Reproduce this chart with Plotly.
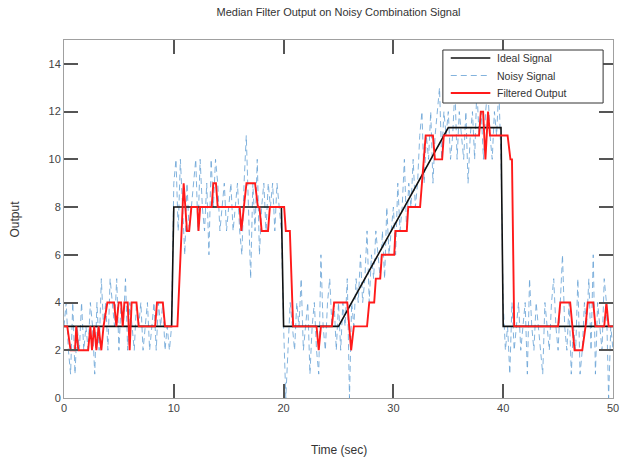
import numpy as np
import plotly.graph_objects as go

# ---------------- data ----------------
ideal_t = [0, 9.8, 10, 19.8, 20, 25, 35, 39.8, 40, 50]
ideal_v = [3, 3, 8, 8, 3, 3, 11.33, 11.33, 3, 3]

noisy_dt = 0.2
noisy_v = [
    # 0 - 10
    3, 4, 2, 1, 4, 1, 3, 2, 4, 2,
    3, 2, 4, 3, 1, 4, 2, 5, 3, 4,
    2, 5, 4, 3, 5, 2, 4, 3, 5, 2,
    4, 3, 2, 4, 3, 4, 2, 3, 4, 2,
    3, 4, 2, 4, 3, 4, 2, 3, 2, 3,
    # 10 - 20
    9, 10, 7, 10, 8, 6, 9, 7, 8, 9,
    10, 7, 10, 8, 7, 9, 6, 10, 8, 10,
    9, 7, 8, 9, 7, 8, 9, 7, 8, 9,
    7, 6, 9, 11, 8, 5, 9, 7, 10, 6,
    8, 9, 7, 9, 8, 9, 7, 9, 8, 7,
    # 20 - 25
    3, 0, 2, 4, 3, 2, 4, 3, 5, 2,
    3, 4, 1, 3, 4, 2, 1, 6, 3, 2,
    4, 5, 3, 4, 2,
    # 25 - 35
    4, 2, 4, 3, 5, 0, 4, 3, 5, 4,
    6, 4, 5, 7, 4, 6, 5, 7, 6, 5,
    7, 5, 8, 6, 7, 8, 6, 9, 7, 8,
    10, 7, 9, 8, 10, 8, 9, 11, 12, 9,
    11, 10, 12, 9, 11, 12, 13, 10, 12, 11,
    # 35 - 40
    12, 10, 11, 13, 10, 12, 11, 10, 12, 9,
    11, 12, 10, 13, 11, 12, 10, 12, 13, 11,
    10, 12, 11, 13, 10,
    # 40 - 50
    4, 2, 3, 1, 4, 2, 3, 4, 2, 3,
    4, 1, 5, 3, 2, 4, 3, 2, 1, 4,
    3, 2, 4, 5, 3, 2, 4, 6, 3, 2,
    4, 1, 3, 2, 5, 1, 2, 4, 3, 5,
    2, 6, 1, 4, 3, 2, 5, 4, 0, 3,
    2,
]
noisy_t = [round(i * noisy_dt, 2) for i in range(len(noisy_v))]

filt_t = [0, 0.3, 0.6, 1.0, 1.12, 1.3, 2.2, 2.4, 2.55, 2.75, 2.95, 3.15, 3.4, 3.6,
          3.95, 4.56, 4.77, 4.98, 5.2, 5.35, 5.5, 5.8, 5.98, 6.16, 6.6, 6.8,
          8.3, 8.47, 9.0, 9.2, 10.33, 10.9, 11.2, 11.4, 11.6, 12.15, 12.25, 12.4,
          13.45, 13.6, 13.84, 14.0, 16.0, 16.15, 16.38, 16.62, 17.4, 17.66, 17.8,
          18.0, 18.58, 18.75, 20.05, 20.2, 20.57, 20.87, 23.0, 23.2, 23.4, 24.4,
          24.6, 25.8, 26.15, 26.4, 27.6, 27.8, 28.25, 28.4, 28.8, 28.95, 30.08,
          30.18, 31.22, 31.35, 32.43, 32.94, 33.6, 33.78, 34.44, 34.59, 37.8,
          37.96, 38.17, 38.38, 38.62, 38.8, 40.4, 40.66, 40.8, 41.0, 45.0, 45.2,
          46.1, 46.5, 47.2, 47.5, 47.7, 48.2, 48.4, 49.2, 49.4, 49.6, 50]
filt_v = [3, 3, 2, 2, 3, 2, 2, 3, 2, 3, 2, 3, 2, 3,
          4, 4, 3, 4, 4, 3, 4, 4, 2, 4, 4, 3,
          3, 4, 4, 3, 3, 9, 7, 7, 8, 8, 7, 8,
          8, 9, 9, 8, 8, 7, 8, 9, 9, 8, 8,
          7, 7, 8, 8, 7, 7, 3, 3, 2, 3, 3,
          4, 4, 2, 3, 3, 4, 4, 5, 5, 6, 6,
          7, 7, 8, 8, 11, 11, 10, 10, 11, 11,
          12, 12, 10, 12, 11, 11, 10, 10, 3, 3, 4,
          4, 2, 2, 3, 4, 4, 3, 3, 4, 3, 3]

x_ticks = [0, 10, 20, 30, 40, 50]
y_ticks = [0, 2, 4, 6, 8, 10, 12, 14]
legend_names = ["Ideal Signal", "Noisy Signal", "Filtered Output"]

# ---------------- styles ----------------
FONT = "Liberation Sans, Arial, sans-serif"
C_IDEAL = "#111111"
C_NOISY = "rgba(100,160,212,0.8)"
C_FILT = "#ff1a1a"
W, H = 626, 460
ML, MR, MT, MB = 64, 7, 40, 62
PW, PH = W - ML - MR, H - MT - MB


def px_x(px):
    return (px - ML) / PW


def px_y(py):
    return (H - MB - py) / PH


fig = go.Figure()
fig.add_trace(go.Scatter(x=noisy_t, y=noisy_v, mode="lines", name=legend_names[1],
                         line=dict(color=C_NOISY, width=1, dash="6px,4px")))
fig.add_trace(go.Scatter(x=ideal_t, y=ideal_v, mode="lines", name=legend_names[0],
                         line=dict(color=C_IDEAL, width=1.6)))
fig.add_trace(go.Scatter(x=filt_t, y=filt_v, mode="lines", name=legend_names[2],
                         line=dict(color=C_FILT, width=1.9)))

axis_common = dict(showgrid=False, zeroline=False, showline=True, linecolor="#a0a0a0",
                   linewidth=1, mirror="ticks", ticks="inside", ticklen=14, tickwidth=1.5,
                   tickcolor="#555555", tickfont=dict(family=FONT, size=11, color="#444444"))

fig.update_layout(
    width=W, height=H,
    margin=dict(l=ML, r=MR, t=MT, b=MB),
    paper_bgcolor="white", plot_bgcolor="white",
    font=dict(family=FONT, size=11, color="#333333"),
    title=dict(text="Median Filter Output on Noisy Combination Signal", x=0.5, xref="paper",
               y=1 - 12 / H, yref="container", yanchor="middle",
               font=dict(family=FONT, size=11, color="#333333")),
    xaxis=dict(range=[0, 50], tickvals=x_ticks, **axis_common),
    yaxis=dict(range=[0, 15], tickvals=y_ticks, **axis_common),
    showlegend=False,
)

# ---- legend box (drawn as shapes + text) ----
fig.add_shape(type="rect", xref="paper", yref="paper",
              x0=px_x(447), x1=px_x(609), y0=px_y(103), y1=px_y(50),
              fillcolor="white", line=dict(color="#333333", width=1), layer="above")
leg_styles = [dict(color=C_IDEAL, width=1.6),
              dict(color=C_NOISY, width=1, dash="6px,4px"),
              dict(color=C_FILT, width=1.9)]
leg_rows = [58, 75.5, 93]
for name, st, row in zip(legend_names, leg_styles, leg_rows):
    fig.add_shape(type="line", xref="paper", yref="paper",
                  x0=px_x(455), x1=px_x(495), y0=px_y(row), y1=px_y(row),
                  line=st, layer="above")
    fig.add_annotation(text=name, xref="paper", yref="paper", x=px_x(500), y=px_y(row),
                       xanchor="left", yanchor="middle", showarrow=False,
                       font=dict(family=FONT, size=10.5, color="#333333"))

fig.add_annotation(text="Time (sec)", xref="paper", yref="paper", x=0.5, y=-52 / PH,
                   yanchor="middle", showarrow=False,
                   font=dict(family=FONT, size=12, color="#333333"))
fig.add_annotation(text="Output", xref="paper", yref="paper", x=-50 / PW, y=0.5,
                   xanchor="center", yanchor="middle", textangle=-90, showarrow=False,
                   font=dict(family=FONT, size=12, color="#333333"))

fig.write_html("out.html", config={"displayModeBar": False},
               post_script="document.body.style.margin='0';")
